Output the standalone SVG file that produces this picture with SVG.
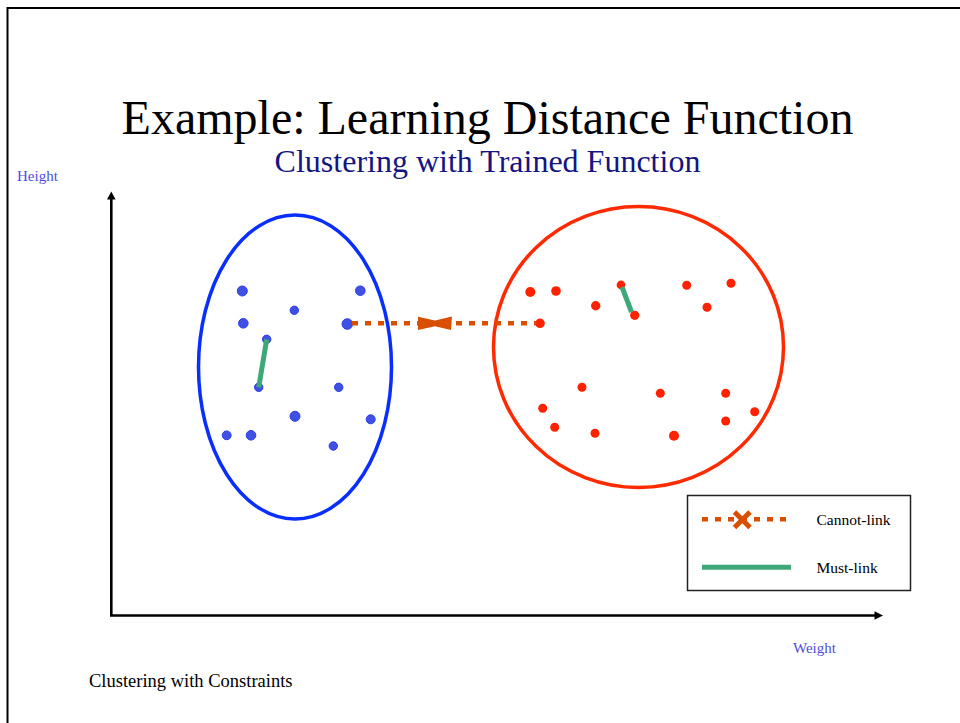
<svg xmlns="http://www.w3.org/2000/svg" width="960" height="723" viewBox="0 0 960 723">
  <style>
    .serif { font-family: "Liberation Serif", "Times New Roman", serif; }
    .axislabel { font-size: 15px; fill: #4d4de0; }
    .bdot { fill: #4050e0; stroke: #2a3cf0; stroke-width: 1; }
    .rdot { fill: #ff2200; }
    .must { stroke: #3fa878; stroke-width: 5; stroke-linecap: butt; fill: none; }
    .cannot { stroke: #d94f00; stroke-width: 4.5; stroke-dasharray: 6 7; fill: none; }
  </style>

  <rect x="0" y="0" width="960" height="723" fill="#ffffff"/>

  <!-- page frame -->
  <g id="frame" stroke="#000" stroke-width="2" fill="none">
    <line x1="7.5" y1="8" x2="960" y2="8"/>
    <line x1="7.5" y1="7" x2="7.5" y2="723"/>
  </g>

  <!-- headings -->
  <g id="title">
    <text class="serif" x="487.5" y="134" font-size="48" text-anchor="middle" fill="#000">Example: Learning Distance Function</text>
    <text class="serif" x="487.5" y="172" font-size="32" text-anchor="middle" fill="#141482">Clustering with Trained Function</text>
  </g>

  <!-- axes -->
  <g id="axes">
    <polyline points="111.3,198 111.3,615.5 875,615.5" fill="none" stroke="#000" stroke-width="2.6"/>
    <polygon points="111.3,191.5 107,199.5 115.6,199.5" fill="#000"/>
    <polygon points="883,615.5 874.5,611.2 874.5,619.8" fill="#000"/>
    <text class="serif axislabel" x="17" y="181">Height</text>
    <text class="serif axislabel" x="793" y="653">Weight</text>
  </g>

  <!-- blue cluster -->
  <g id="cluster-blue">
    <ellipse cx="295" cy="367" rx="96.5" ry="152" fill="none" stroke="#0a2eff" stroke-width="3.5"/>
    <circle class="bdot" cx="242.3" cy="291" r="5"/>
    <circle class="bdot" cx="360.3" cy="290.7" r="4.8"/>
    <circle class="bdot" cx="294.3" cy="310.3" r="4.2"/>
    <circle class="bdot" cx="243.3" cy="323.3" r="4.8"/>
    <circle class="bdot" cx="347.3" cy="324" r="5.3"/>
    <circle class="bdot" cx="266.7" cy="339.3" r="4.2"/>
    <circle class="bdot" cx="258.7" cy="387.3" r="4.2"/>
    <circle class="bdot" cx="338.7" cy="387.3" r="4.2"/>
    <circle class="bdot" cx="295" cy="416.3" r="5"/>
    <circle class="bdot" cx="370.7" cy="419.3" r="4.5"/>
    <circle class="bdot" cx="226.7" cy="435.3" r="4.4"/>
    <circle class="bdot" cx="251" cy="435.3" r="4.8"/>
    <circle class="bdot" cx="333.3" cy="446" r="4.2"/>
  </g>

  <!-- red cluster -->
  <g id="cluster-red">
    <ellipse cx="638.5" cy="347" rx="145" ry="140.5" fill="none" stroke="#ff2a00" stroke-width="3.5"/>
    <circle class="rdot" cx="530.3" cy="292" r="5"/>
    <circle class="rdot" cx="556" cy="291" r="4.8"/>
    <circle class="rdot" cx="595.7" cy="305.7" r="4.7"/>
    <circle class="rdot" cx="621" cy="285" r="4.4"/>
    <circle class="rdot" cx="634.7" cy="315.3" r="4.6"/>
    <circle class="rdot" cx="686.7" cy="285.3" r="4.5"/>
    <circle class="rdot" cx="731" cy="283.3" r="4.5"/>
    <circle class="rdot" cx="707" cy="307.3" r="4.5"/>
    <circle class="rdot" cx="540" cy="323.3" r="4.8"/>
    <circle class="rdot" cx="582" cy="387.3" r="4.5"/>
    <circle class="rdot" cx="660.3" cy="393.3" r="4.5"/>
    <circle class="rdot" cx="725.7" cy="393.3" r="4.5"/>
    <circle class="rdot" cx="542.7" cy="408.3" r="4.5"/>
    <circle class="rdot" cx="754.7" cy="411.7" r="4.5"/>
    <circle class="rdot" cx="554.7" cy="427.3" r="4.5"/>
    <circle class="rdot" cx="725.7" cy="421" r="4.5"/>
    <circle class="rdot" cx="595" cy="433.3" r="4.5"/>
    <circle class="rdot" cx="674" cy="435.7" r="5"/>
  </g>

  <!-- constraints between points -->
  <g id="connectors">
    <line class="must" x1="266.7" y1="339.3" x2="258.7" y2="387.3"/>
    <line class="must" x1="622" y1="287" x2="631.5" y2="312"/>
    <line class="cannot" x1="352" y1="323.3" x2="536" y2="323.3"/>
    <polygon points="418,316.8 435,320.6 452,316.5 451,330 435,326.2 418,330" fill="#d94f00"/>
  </g>

  <!-- legend -->
  <g id="legend">
    <rect x="687.5" y="495.5" width="223" height="95" fill="#fff" stroke="#222" stroke-width="1.5"/>
    <line class="cannot" x1="702" y1="519.3" x2="791" y2="519.3" stroke-dasharray="5 7"/>
    <g stroke="#d94f00" stroke-width="5" stroke-linecap="butt">
      <line x1="734.5" y1="512" x2="750" y2="527.5"/>
      <line x1="750" y1="512" x2="734.5" y2="527.5"/>
    </g>
    <text class="serif" x="816.5" y="525" font-size="15.5" fill="#000">Cannot-link</text>
    <line class="must" x1="702" y1="567.3" x2="791" y2="567.3" stroke-width="5.5"/>
    <text class="serif" x="816.5" y="573" font-size="15.5" fill="#000">Must-link</text>
  </g>

  <!-- footer -->
  <text id="footer" class="serif" x="89" y="687" font-size="18.5" fill="#000">Clustering with Constraints</text>
</svg>
